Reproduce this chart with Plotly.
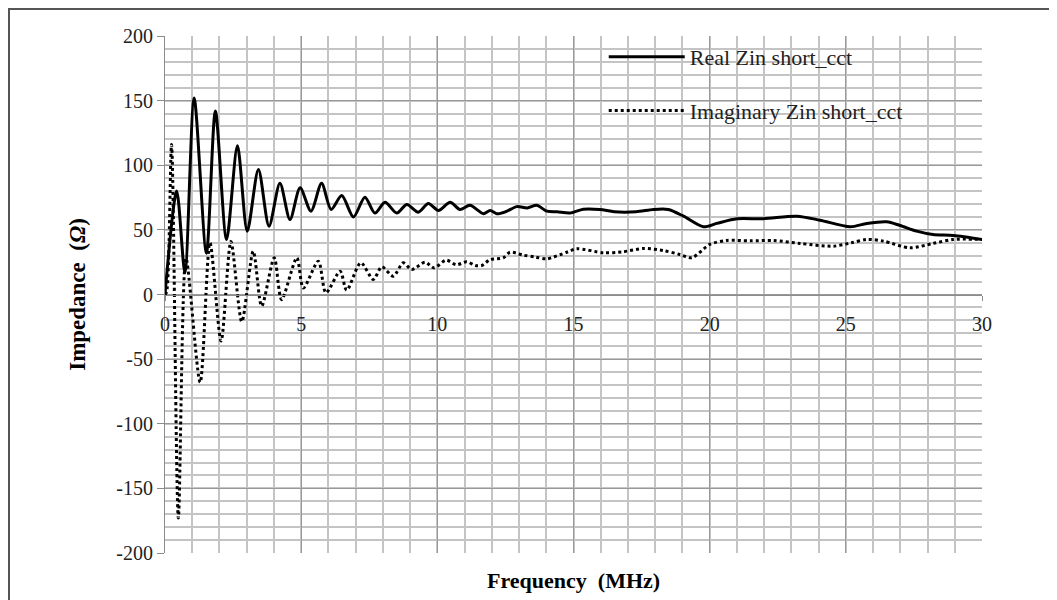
import plotly.graph_objects as go

# Frequency (MHz) and real part of Zin (Ohm)
freq_real = [0, 0.43, 0.73, 1.07, 1.52, 1.85, 2.26, 2.66, 3.02, 3.43, 3.82, 4.22, 4.59, 4.96,
             5.36, 5.75, 6.1, 6.49, 6.92, 7.34, 7.71, 8.08, 8.51, 8.88, 9.3, 9.67, 10.04, 10.47,
             10.83, 11.2, 11.69, 11.94, 12.18, 12.5, 12.92, 13.3, 13.65, 14.02, 14.4, 14.87,
             15.36, 15.97, 16.5, 17.3, 17.93, 18.48, 19.04, 19.77, 20.26, 21.0, 21.97, 23.2,
             24.05, 25.16, 25.77, 26.5, 26.99, 27.6, 28.2, 28.95, 30]
real_zin = [0, 80, 17, 152, 32, 142, 42.6, 115, 49, 96.7, 52.9, 86, 58, 82.6,
            64.5, 86, 65.8, 76.6, 60, 75.3, 63, 71.4, 63, 69.7, 63.7, 70.4, 65, 71.4,
            65.8, 69, 62.5, 65, 62.5, 64, 68, 67, 69, 64.5, 64, 63,
            66, 65.8, 64, 64, 65.8, 65.8, 60.6, 52.4, 55, 58.6, 58.6, 60.6,
            57.5, 52.4, 55, 56.3, 53.4, 49, 46.4, 45.7, 42.6]

# Frequency (MHz) and imaginary part of Zin (Ohm)
freq_imag = [0, 0.06, 0.24, 0.49, 0.77, 1.29, 1.65, 2.06, 2.42, 2.82, 3.24, 3.55, 4.01, 4.28,
             4.84, 5.08, 5.63, 5.91, 6.43, 6.67, 7.19, 7.65, 7.96, 8.38, 8.75, 9.06, 9.55,
             9.88, 10.32, 10.7, 11.08, 11.4, 11.63, 11.94, 12.42, 12.67, 13.16, 13.6, 14.02,
             14.75, 15.12, 16.1, 16.8, 17.57, 18.3, 18.9, 19.34, 20.0, 20.63, 21.5, 22.34,
             23.32, 24.54, 25.2, 25.77, 26.38, 27.36, 28.2, 28.95, 30]
imag_zin = [0, 2, 116, -173, 28, -68, 40, -36, 41, -21, 33.5, -9, 28.4, -4,
            28.4, 5, 25.8, 1.3, 18, 3.3, 24.5, 11.6, 21.4, 14.2, 24.5, 19.3, 25,
            20.6, 26.6, 23, 25.3, 22.4, 22.4, 27, 28.4, 32.7, 30.4, 29, 27.6,
            32.7, 35.4, 32.3, 33, 35.6, 34, 31, 28.4, 38.7, 41.8, 41.5, 41.8,
            39.5, 37.4, 40, 42.6, 41.3, 36.1, 39.5, 42.6, 42.6]

x_ticks = [0, 5, 10, 15, 20, 25, 30]
y_ticks = [-200, -150, -100, -50, 0, 50, 100, 150, 200]

FONT = "Liberation Serif, Times New Roman, serif"

fig = go.Figure()
fig.add_trace(go.Scatter(
    x=freq_real, y=real_zin, mode="lines", name="Real Zin short_cct",
    line=dict(color="black", width=3, shape="spline", smoothing=0.8),
    legendgroup="a"))
fig.add_trace(go.Scatter(
    x=freq_imag, y=imag_zin, mode="lines", name="Imaginary Zin short_cct",
    line=dict(color="black", width=3, dash="dot", shape="spline", smoothing=0.8),
    legendgroup="b"))

# page has an 8px body margin, so the figure is drawn 8px right/down
W, H = 1049, 592
L, R, T, B = 157, 75, 28, 47
pw, ph = W - L - R, H - T - B

fig.update_layout(
    width=W, height=H,
    margin=dict(l=L, r=R, t=T, b=B, autoexpand=False),
    paper_bgcolor="white", plot_bgcolor="white",
    font=dict(family=FONT, color="black", size=20),
    showlegend=True,
    legend=dict(x=0.537, y=1.0, xanchor="left", yanchor="top",
                bgcolor="rgba(0,0,0,0)", font=dict(size=22, family=FONT, color="#222222"),
                traceorder="grouped", tracegroupgap=22, itemwidth=76),
    xaxis=dict(
        range=[0, 30], tickvals=x_ticks, ticktext=[str(v) for v in x_ticks],
        anchor="free", position=0.5, automargin=False,
        showline=True, linecolor="#8c8c8c", linewidth=1,
        ticks="outside", ticklen=5, tickcolor="#8c8c8c",
        ticklabelstandoff=6,
        showgrid=True, gridcolor="#999999", gridwidth=1.2,
        minor=dict(dtick=1, showgrid=True, gridcolor="#c4c4c4", gridwidth=1.5),
        zeroline=False,
        tickfont=dict(size=20, family=FONT, color="#222222"),
        title=None,
    ),
    yaxis=dict(
        range=[-200, 200], tickvals=y_ticks, ticktext=[str(v) for v in y_ticks],
        automargin=False,
        showline=True, linecolor="#8c8c8c", linewidth=1,
        ticks="outside", ticklen=7, tickcolor="#8c8c8c",
        showgrid=True, gridcolor="#999999", gridwidth=1.2,
        minor=dict(dtick=10, showgrid=True, gridcolor="#c4c4c4", gridwidth=1.5),
        zeroline=False,
        tickfont=dict(size=20, family=FONT, color="#222222"),
        title=dict(text="<b>Impedance  (<i>Ω</i>)</b>", font=dict(size=23, family=FONT),
                   standoff=24),
    ),
)

# x-axis title placed below the plot area
fig.add_annotation(
    text="<b>Frequency  (MHz)</b>", xref="paper", yref="paper",
    x=(565 - L) / pw, y=(545 - 572) / ph, xanchor="center", yanchor="middle",
    showarrow=False, font=dict(size=22, family=FONT))

# outer chart border
fig.add_shape(
    type="rect", xref="paper", yref="paper",
    x0=(1 - L) / pw, x1=(1047 - L) / pw,
    y0=(545 - 600) / ph, y1=(545 - 1) / ph,
    line=dict(color="#555555", width=2), fillcolor="rgba(0,0,0,0)", layer="below")

fig.write_html("out.html")
